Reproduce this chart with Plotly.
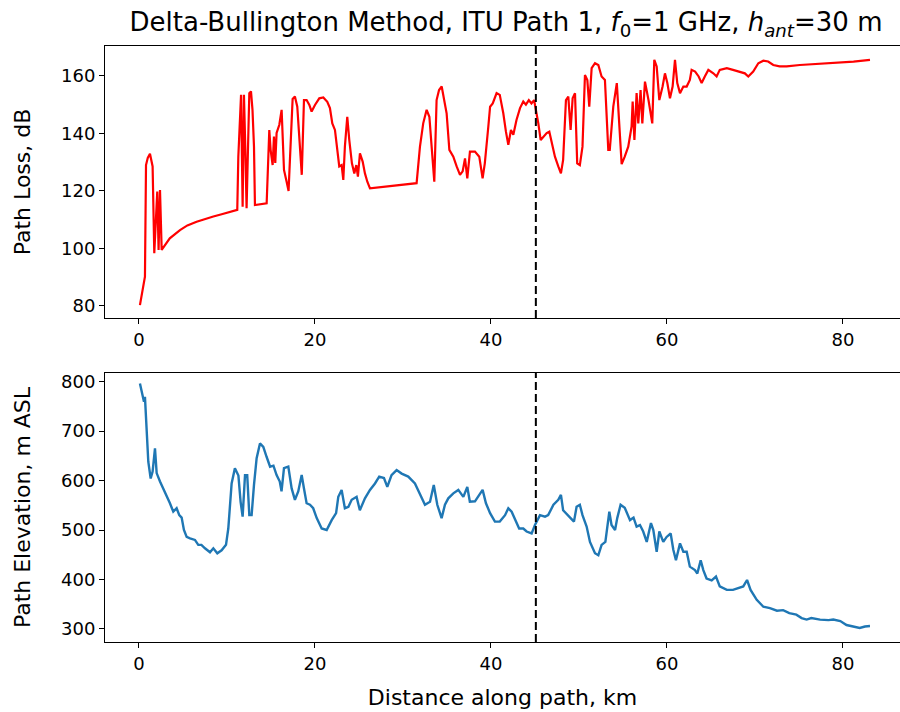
import plotly.graph_objects as go
from plotly.subplots import make_subplots

# ---- data ----
loss_km = [0.11, 0.68, 0.8, 1.0, 1.25, 1.55, 1.74, 2.08, 2.23, 2.39, 2.58, 2.8, 3.5, 4.66, 5.5, 6.55, 7.5, 8.45,
           9.4, 10.34, 11.17, 11.29, 11.48, 11.6, 11.78, 11.93, 12.08, 12.23, 12.42, 12.54, 12.73, 12.9, 13.07,
           13.18, 14.51, 14.58, 14.81, 14.96, 15.19, 15.34, 15.49, 15.64, 15.95, 16.21, 16.33, 16.48, 16.78, 17.0,
           17.46, 17.72, 17.99, 18.3, 18.5, 18.75, 19.05, 19.36, 19.62, 20.0, 20.49, 20.95, 21.4, 21.7, 21.97,
           22.27, 22.57, 22.76, 23.03, 23.22, 23.4, 23.67, 23.9, 24.2, 24.47, 24.7, 24.88, 25.11, 25.42, 25.68,
           25.95, 26.25, 31.55, 31.93, 32.3, 32.69, 33.0, 33.26, 33.56, 33.82, 34.1, 34.4, 34.65, 34.96, 35.27,
           35.72, 36.1, 36.48, 36.78, 37.05, 37.31, 37.61, 38.18, 38.67, 39.05, 39.3, 39.7, 39.9, 40.2, 40.64,
           41.0, 41.4, 41.7, 41.97, 42.27, 42.54, 42.9, 43.3, 43.67, 43.97, 44.3, 44.6, 44.9, 45.15, 45.38, 45.65,
           45.95, 46.33, 46.63, 46.9, 47.27, 47.65, 47.95, 48.2, 48.52, 48.79, 49.05, 49.28, 49.55, 49.8, 50.1,
           50.4, 50.68, 50.95, 51.17, 51.44, 51.82, 52.2, 52.57, 52.95, 53.33, 53.5, 53.9, 54.3, 54.6, 54.85,
           55.2, 55.6, 55.98, 56.1, 56.3, 56.55, 56.74, 57.0, 57.2, 57.5, 57.9, 58.1, 58.33, 58.56, 58.83, 59.13,
           59.5, 59.77, 60.04, 60.34, 60.64, 60.91, 61.17, 61.48, 61.86, 62.24, 62.6, 62.8, 63.2, 63.6, 63.94,
           64.3, 64.7, 65.27, 65.64, 66.0, 66.8, 67.5, 68.3, 68.85, 69.24, 69.8, 70.38, 70.95, 71.5, 72.08, 72.8,
           73.6, 75.1, 76.6, 78.2, 79.7, 81.2, 83.07]
loss_db = [80.3, 90.2, 129.0, 131.5, 132.9, 128.5, 98.3, 119.8, 99.5, 120.3, 99.5, 100.5, 103.5, 106.4, 108.0,
           109.3, 110.3, 111.1, 111.9, 112.6, 113.4, 131.9, 144.7, 153.4, 114.5, 153.4, 135.4, 114.0, 138.9,
           154.0, 154.6, 148.2, 135.4, 115.1, 115.7, 121.5, 141.2, 134.3, 129.0, 138.9, 129.7, 140.2, 143.0,
           148.2, 140.1, 127.3, 123.2, 120.0, 152.0, 152.8, 149.3, 134.3, 125.6, 151.6, 151.6, 149.9, 147.6,
           149.9, 152.2, 152.5, 151.0, 148.8, 143.5, 141.2, 134.3, 128.5, 129.0, 123.8, 135.4, 145.8, 137.7,
           129.6, 126.1, 129.0, 125.0, 133.1, 130.2, 126.1, 123.2, 120.9, 122.7, 135.4, 143.5, 148.2, 145.8,
           136.6, 123.2, 151.6, 155.1, 156.3, 151.6, 147.0, 134.3, 131.9, 128.5, 125.6, 126.8, 131.3, 124.4,
           133.7, 133.7, 131.9, 124.4, 129.6, 142.4, 149.3, 150.4, 154.0, 153.4, 147.0, 140.6, 136.0, 141.2,
           139.5, 144.7, 148.8, 151.1, 150.0, 151.6, 150.4, 151.6, 147.6, 143.5, 137.7, 138.9, 140.1, 140.6,
           136.6, 131.9, 128.5, 126.1, 130.8, 151.6, 152.8, 141.2, 152.2, 154.0, 129.6, 129.0, 135.4, 160.3,
           158.6, 149.3, 162.7, 164.4, 163.8, 159.8, 158.6, 134.3, 134.3, 149.3, 157.5, 143.5, 129.3, 131.9,
           135.4, 142.4, 151.1, 137.7, 154.0, 143.5, 155.1, 143.5, 158.0, 151.6, 148.2, 143.5, 165.6, 163.3,
           151.6, 156.3, 160.9, 157.5, 152.2, 156.3, 165.6, 157.5, 154.0, 156.3, 156.3, 158.6, 162.1, 161.5,
           159.8, 157.5, 159.8, 162.1, 160.9, 159.8, 162.1, 162.7, 162.1, 161.5, 160.9, 159.8, 161.5, 164.4,
           165.3, 165.0, 163.8, 163.3, 163.3, 163.8, 164.1, 164.4, 164.6, 165.0, 165.6]

elev_km = [0.11, 0.42, 0.57, 0.68, 0.87, 1.06, 1.33, 1.55, 1.82, 2.01, 2.39, 2.77, 3.15, 3.52, 3.9, 4.28, 4.58,
           4.85, 5.11, 5.42, 5.8, 6.36, 6.74, 7.1, 7.5, 8.07, 8.45, 8.9, 9.39, 9.89, 10.15, 10.53, 10.9, 11.3,
           11.55, 11.78, 12.05, 12.3, 12.54, 12.8, 13.07, 13.37, 13.75, 14.13, 14.5, 14.9, 15.28, 15.64, 16.0,
           16.2, 16.48, 16.97, 17.35, 17.72, 18.1, 18.49, 18.75, 19.05, 19.43, 19.8, 20.2, 20.76, 21.33, 21.9,
           22.4, 22.65, 23.03, 23.4, 23.8, 24.17, 24.73, 25.1, 25.68, 26.25, 26.82, 27.3, 27.84, 28.22, 28.7,
           29.28, 29.85, 30.6, 31.36, 31.93, 32.5, 33.07, 33.5, 33.9, 34.39, 34.77, 35.15, 35.72, 36.29, 36.86,
           37.31, 37.6, 38.18, 38.67, 39.05, 39.43, 39.9, 40.45, 41.0, 41.6, 41.97, 42.35, 42.73, 43.2, 43.67,
           44.05, 44.62, 45.0, 45.57, 46.14, 46.5, 47.1, 47.65, 47.95, 48.2, 48.67, 49.05, 49.43, 49.73, 50.1,
           50.4, 50.87, 51.25, 51.82, 52.2, 52.57, 53.0, 53.45, 53.7, 54.1, 54.35, 54.73, 55.2, 55.8, 56.2,
           56.55, 56.93, 57.3, 57.7, 58.18, 58.45, 58.83, 59.13, 59.58, 59.96, 60.42, 60.72, 61.02, 61.48, 61.86,
           62.24, 62.6, 63.18, 63.45, 63.83, 64.13, 64.5, 65.08, 65.57, 66.0, 66.8, 67.5, 68.1, 68.67, 69.1,
           69.5, 70.2, 70.95, 71.7, 72.5, 73.2, 73.9, 74.7, 75.3, 75.87, 76.4, 77.4, 78.35, 78.9, 79.7, 80.4,
           81.2, 81.9, 82.5, 83.07]
elev_m = [796, 773, 759, 769, 699, 638, 604, 618, 665, 615, 598, 584, 567, 554, 537, 544, 530, 525, 500, 486,
          483, 480, 470, 470, 463, 455, 463, 453, 459, 470, 503, 594, 625, 610, 557, 527, 611, 611, 530, 530,
          591, 645, 675, 668, 648, 628, 630, 611, 598, 578, 625, 628, 584, 561, 578, 611, 584, 554, 551, 544,
          524, 503, 500, 520, 534, 567, 581, 544, 547, 561, 567, 540, 564, 581, 594, 608, 605, 587, 611, 621,
          614, 608, 594, 571, 551, 557, 591, 551, 524, 551, 564, 574, 581, 567, 587, 557, 558, 571, 581, 554,
          534, 517, 517, 530, 544, 537, 520, 503, 503, 497, 493, 510, 530, 527, 530, 551, 561, 571, 540, 530,
          524, 517, 547, 551, 530, 507, 476, 453, 449, 470, 476, 537, 510, 500, 524, 551, 545, 520, 525, 507,
          510, 497, 476, 514, 500, 456, 497, 476, 486, 493, 460, 439, 473, 456, 456, 426, 419, 412, 439, 419,
          402, 398, 406, 386, 379, 379, 382, 386, 399, 379, 359, 345, 342, 337, 338, 332, 329, 322, 319, 322,
          319, 318, 319, 316, 308, 305, 302, 305, 306]

tx_km = 45.1
x_ticks = [0, 20, 40, 60, 80]
loss_ticks = [80, 100, 120, 140, 160]
elev_ticks = [300, 400, 500, 600, 700, 800]

title_text = ("Delta-Bullington Method, ITU Path 1, <i>f</i><sub>0</sub>=1 GHz, "
              "<i>h</i><sub><i>ant</i></sub>=30 m")

FONT = "DejaVu Sans"
TICK_SIZE = 18
LABEL_SIZE = 22
TITLE_SIZE = 26

fig = make_subplots(rows=2, cols=1, vertical_spacing=0.0)

fig.add_trace(go.Scatter(x=loss_km, y=loss_db, mode="lines",
                         line=dict(color="#ff0000", width=2.2), showlegend=False), row=1, col=1)
fig.add_trace(go.Scatter(x=elev_km, y=elev_m, mode="lines",
                         line=dict(color="#1f77b4", width=2.4), showlegend=False), row=2, col=1)

for r in (1, 2):
    fig.add_vline(x=tx_km, line=dict(color="black", width=2, dash="8px,4px"), row=r, col=1)

axis_common = dict(showgrid=False, zeroline=False, showline=True, linecolor="black", linewidth=1,
                   ticks="outside", ticklen=5, tickwidth=1, tickcolor="black",
                   tickfont=dict(family=FONT, size=TICK_SIZE, color="black"))

xr = [-3.86, 86.48]
fig.update_xaxes(range=xr, tickvals=x_ticks, mirror=True, **axis_common)
fig.update_yaxes(mirror=False, **axis_common)

fig.update_layout(
    width=900, height=712,
    margin=dict(l=105, r=0, t=46, b=70),
    paper_bgcolor="white", plot_bgcolor="white",
    font=dict(family=FONT, color="black"),
    title=dict(text=title_text, x=506 / 900, xref="container", xanchor="center",
               y=1 - 22 / 712, yref="container", yanchor="middle",
               font=dict(family=FONT, size=TITLE_SIZE, color="black")),
    yaxis=dict(domain=[0.5436, 1.0], range=[75.8, 170.4], tickvals=loss_ticks,
               title=dict(text="Path Loss, dB", font=dict(family=FONT, size=LABEL_SIZE), standoff=24)),
    yaxis2=dict(domain=[0.0, 0.4513], range=[273.7, 817.2], tickvals=elev_ticks,
                title=dict(text="Path Elevation, m ASL", font=dict(family=FONT, size=LABEL_SIZE), standoff=24)),
    xaxis2=dict(title=dict(text="Distance along path, km", font=dict(family=FONT, size=LABEL_SIZE),
                           standoff=17)),
)

fig.write_html("out.html")
